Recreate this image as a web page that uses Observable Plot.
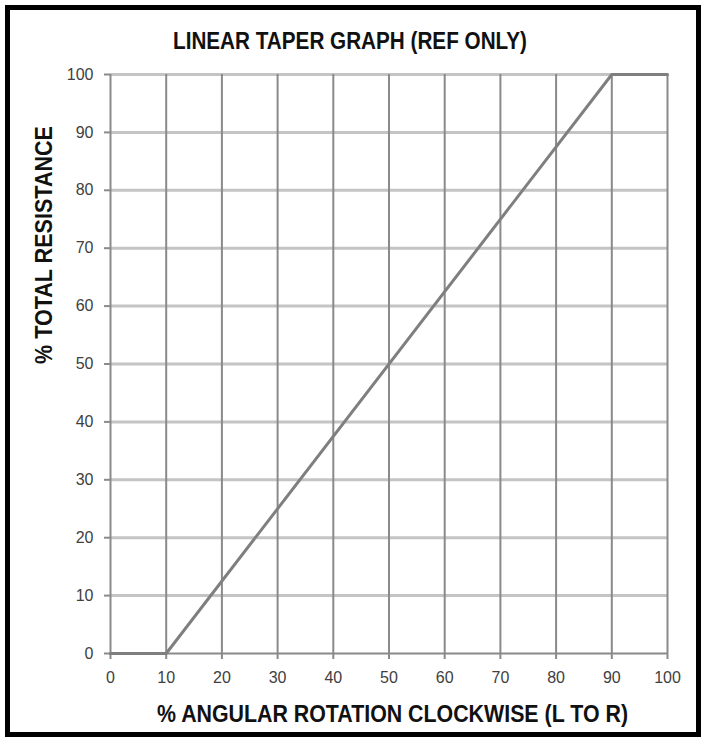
<!DOCTYPE html>
<html>
<head>
<meta charset="utf-8">
<script src="https://cdn.jsdelivr.net/npm/d3@7"></script>
<script src="https://cdn.jsdelivr.net/npm/@observablehq/plot@0.6"></script>
<style>
  html, body { margin: 0; padding: 0; background: #fff; }
  #page { position: relative; width: 703px; height: 742px; overflow: hidden; background: #fff; }
  #title { position: absolute; left: 0; top: 0; width: 703px; height: 62px; }
  #chart { position: absolute; left: 0; top: 62px; }
  #xlabel { position: absolute; left: 0; top: 692px; width: 703px; height: 50px; }
  .lbl { position: absolute; white-space: nowrap; font-family: "Liberation Sans", Arial, sans-serif; font-weight: bold; color: #111; transform-origin: 0 50%; }
  #frame { position: absolute; left: 5px; top: 5px; width: 696px; height: 732px; box-sizing: border-box; border: 5px solid #000; pointer-events: none; }
</style>
</head>
<body>
<div id="page">
  <div id="title"><span class="lbl" id="titleText">LINEAR TAPER GRAPH (REF ONLY)</span></div>
  <div id="chart"></div>
  <div id="xlabel"><span class="lbl" id="xText">% ANGULAR ROTATION CLOCKWISE (L TO R)</span></div>
  <div id="frame"></div>
</div>
<script>
// ---- data ----
const rotation = [0, 10, 90, 100];          // % angular rotation clockwise
const resistance = [0, 0, 100, 100];        // % total resistance
const xTicks = [0, 10, 20, 30, 40, 50, 60, 70, 80, 90, 100];
const yTicks = [0, 10, 20, 30, 40, 50, 60, 70, 80, 90, 100];
const yLabel = "% TOTAL RESISTANCE";

const data = rotation.map((r, i) => ({x: r, y: resistance[i]}));

const plot = Plot.plot({
  width: 703,
  height: 630,
  marginLeft: 110,
  marginRight: 36,
  marginTop: 12,
  marginBottom: 39,
  style: {fontFamily: "'Liberation Sans', Arial, sans-serif", background: "transparent"},
  x: {domain: [0, 100]},
  y: {domain: [0, 100]},
  marks: [
    Plot.ruleY(yTicks.filter(d => d > 0), {stroke: "#c4c4c4", strokeWidth: 3}),
    Plot.ruleX(xTicks.filter(d => d > 0), {stroke: "#8a8a8a", strokeWidth: 2}),
    Plot.ruleX([0], {stroke: "#8a8a8a", strokeWidth: 2}),
    Plot.ruleY([0], {stroke: "#8a8a8a", strokeWidth: 2}),
    Plot.axisX({ticks: xTicks, tickSize: 6, tickPadding: 12, fontSize: 16, stroke: "#8a8a8a", strokeWidth: 2, fill: "#404040", label: null}),
    Plot.axisY({ticks: yTicks, tickSize: 6, tickPadding: 11, fontSize: 16, stroke: "#8a8a8a", strokeWidth: 2, fill: "#404040", label: null}),
    Plot.line(data, {x: "x", y: "y", stroke: "#7f7f7f", strokeWidth: 3}),
    Plot.text([yLabel], {text: d => d, frameAnchor: "left", rotate: -90, dx: -66, fontSize: 23, fontWeight: "bold", fill: "#111"})
  ]
});
document.getElementById("chart").appendChild(plot);

// fit the y label length (condensed look of the original)
const yText = plot.querySelector('g[aria-label="text"] text');
if (yText) {
  yText.setAttribute("textLength", 238);
  yText.setAttribute("lengthAdjust", "spacingAndGlyphs");
}

// fit HTML labels to target width and position
function fit(el, fontSize, targetWidth, centerX, centerY) {
  el.style.fontSize = fontSize + "px";
  el.style.lineHeight = fontSize + "px";
  const w = el.getBoundingClientRect().width;
  const s = targetWidth / w;
  el.style.left = (centerX - targetWidth / 2) + "px";
  el.style.top = (centerY - fontSize / 2) + "px";
  el.style.transform = `scaleX(${s})`;
}
fit(document.getElementById("titleText"), 23, 354, 350, 41);
fit(document.getElementById("xText"), 23, 471, 392, 714 - 692);
</script>
</body>
</html>
